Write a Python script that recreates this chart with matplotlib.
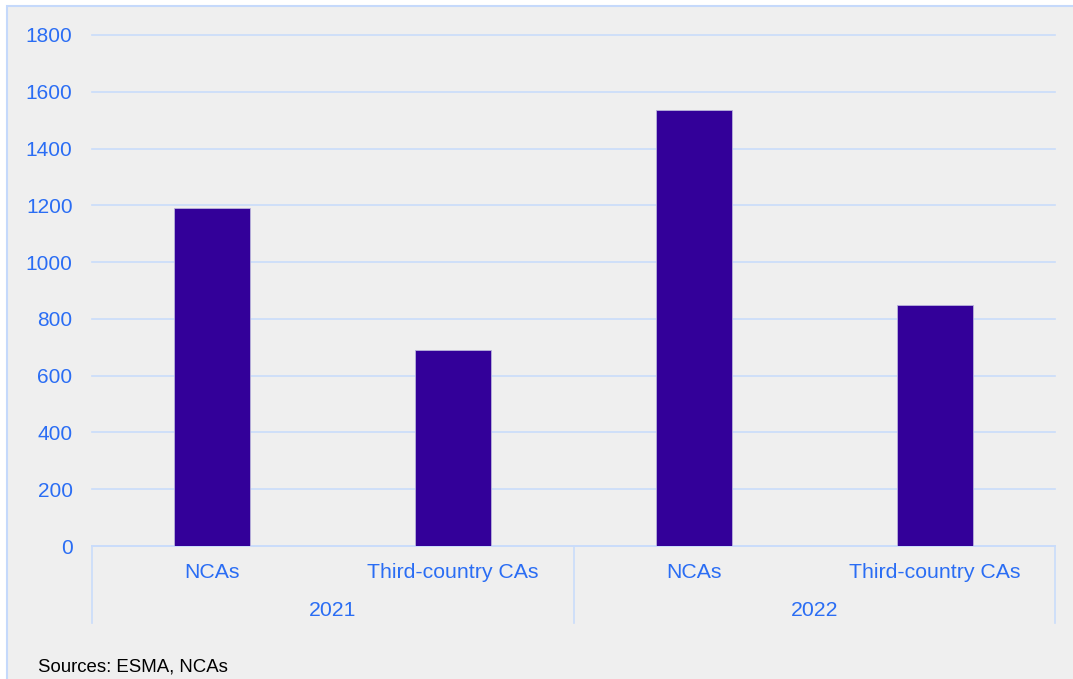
import numpy as np
import matplotlib.pyplot as plt
import matplotlib.transforms as mtransforms

plt.rcParams['font.family'] = ['Liberation Sans', 'DejaVu Sans']

years = ['2021', '2022']
categories = ['NCAs', 'Third-country CAs']
values = [1190, 690, 1537, 850]

bar_color = '#330099'
text_blue = '#2a6df4'
grid_blue = '#c9dcfb'
bg = '#efefef'

fig = plt.figure(figsize=(10.73, 6.79), dpi=100)
fig.patch.set_facecolor('white')
# grey panel with light-blue frame (left/top edges visible)
panel = plt.Rectangle((7 / 1073, -0.05), 1.2, 1 - 6 / 679 + 0.05, transform=fig.transFigure,
                      facecolor=bg, edgecolor='#c5d9fb', linewidth=1.5, zorder=-10)
fig.patches.append(panel)

ax = fig.add_axes([92 / 1073, 133 / 679, 963 / 1073, 511 / 679])
ax.set_facecolor('none')
ax.set_zorder(5)

x = np.arange(len(values))
ax.bar(x, values, width=0.315, color=bar_color, edgecolor='#b9b3dc', linewidth=0.6, zorder=3)

ax.set_xlim(-0.5, len(values) - 0.5)
ax.set_ylim(0, 1800)
ax.set_yticks(np.arange(0, 1801, 200))
ax.yaxis.grid(True, color=grid_blue, linewidth=1.2, zorder=0)
for gl in ax.get_ygridlines():
    gl.set_clip_on(False)
ax.set_axisbelow(True)
ax.tick_params(axis='y', length=0, pad=14, labelsize=15, labelcolor=text_blue)
ax.set_xticks([])
for s in ['top', 'right', 'left']:
    ax.spines[s].set_visible(False)
ax.spines['bottom'].set_color(grid_blue)
ax.spines['bottom'].set_linewidth(1.2)

trans = mtransforms.blended_transform_factory(ax.transData, ax.transAxes)
sep_bottom = -77 / 511
for xs in [-0.5, 1.5, 3.5]:
    ax.plot([xs, xs], [0, sep_bottom], transform=trans, color=grid_blue,
            linewidth=1.2, clip_on=False)

labels = [c for y in years for c in categories]
for xi, lab in zip(x, labels):
    ax.text(xi, -27 / 511, lab, transform=trans, ha='center', va='center',
            fontsize=15.3, color=text_blue)
for i, yr in enumerate(years):
    ax.text(i * 2 + 0.5, -65 / 511, yr, transform=trans, ha='center', va='center',
            fontsize=15.3, color=text_blue)

fig.text(38 / 1073, 1 - 667 / 679, 'Sources: ESMA, NCAs', ha='left', va='center',
         fontsize=13.4, color='black')

fig.savefig('out.png', dpi=100, facecolor=fig.get_facecolor())
